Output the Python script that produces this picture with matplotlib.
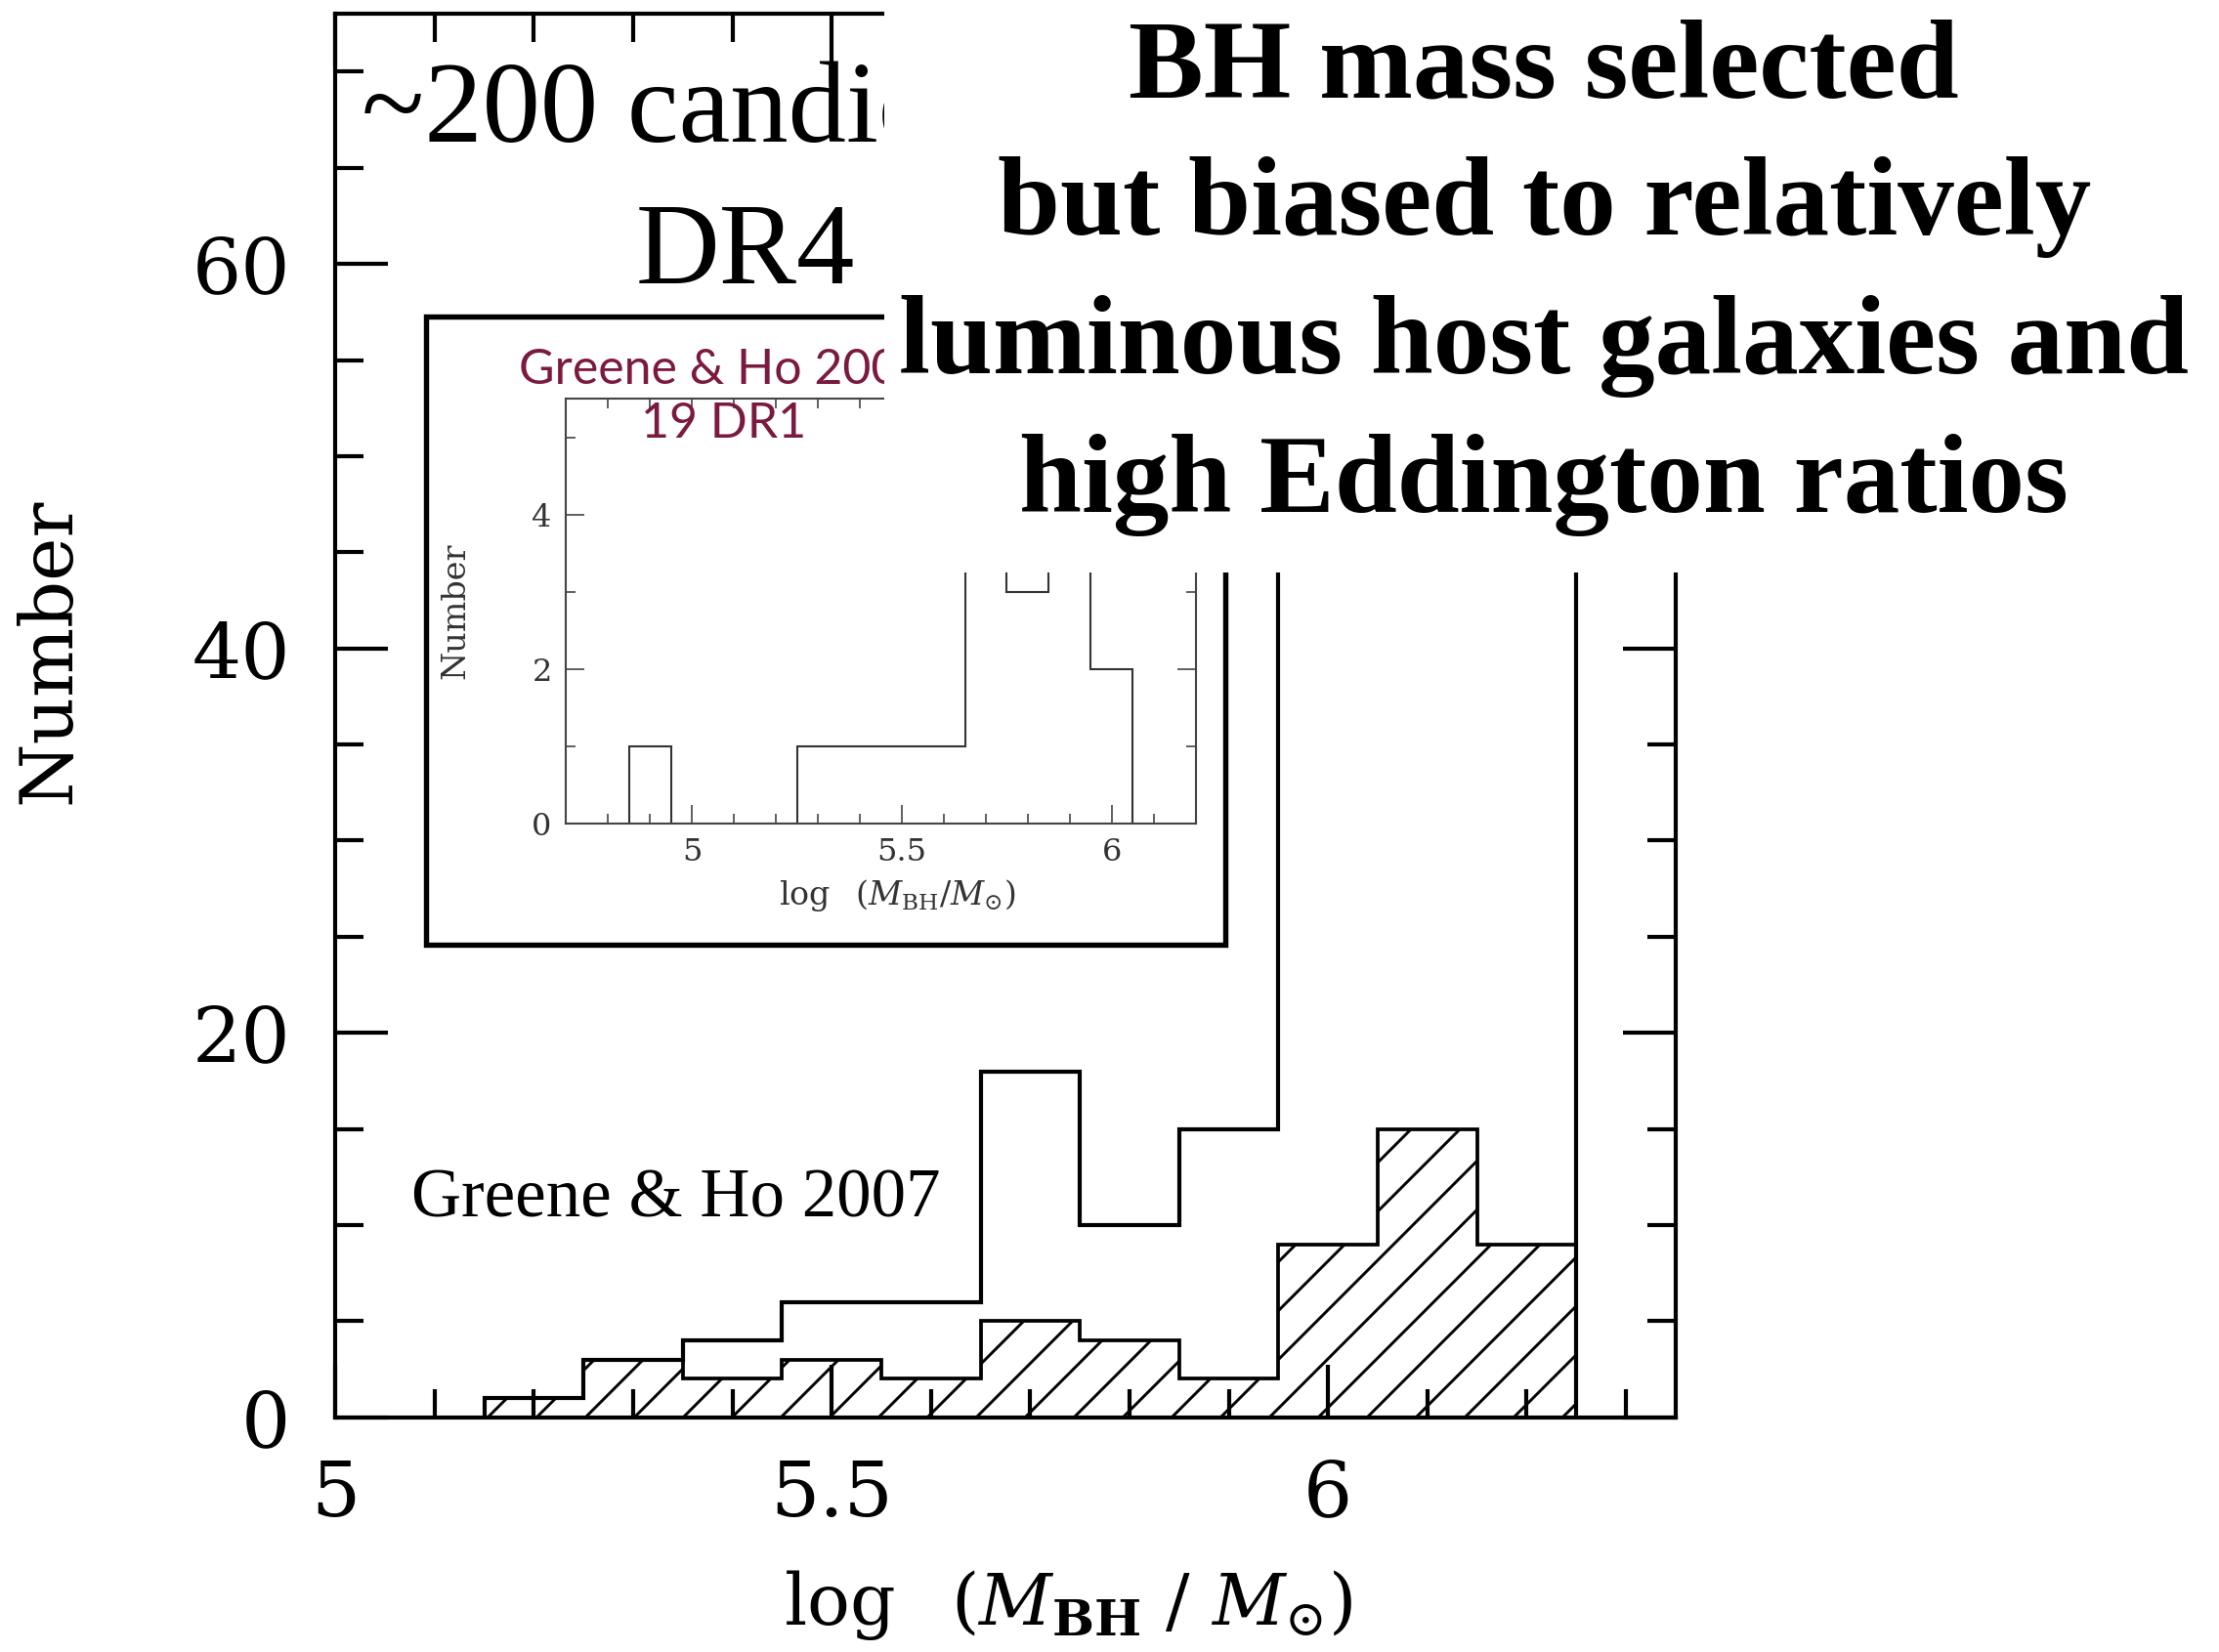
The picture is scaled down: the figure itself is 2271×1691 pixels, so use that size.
import numpy as np
import matplotlib.pyplot as plt
from matplotlib.patches import Rectangle

plt.rcParams['mathtext.fontset'] = 'dejavuserif'
plt.rcParams['hatch.linewidth'] = 0.7

# Greene & Ho 2007 (DR4), bins of 0.1 dex
bin_centers = [5.2, 5.3, 5.4, 5.5, 5.6, 5.7, 5.8, 5.9, 6.0, 6.1, 6.2]
n_all = [1, 3, 4, 6, 6, 18, 10, 15, 47, 50, 45]
n_hatched = [1, 3, 2, 3, 2, 5, 4, 2, 9, 15, 9]

# Greene & Ho 2004 inset (DR1)
inset_centers = [4.9, 5.0, 5.1, 5.2, 5.3, 5.4, 5.5, 5.6, 5.7, 5.8, 5.9, 6.0]
inset_counts = [1, 0, 0, 0, 1, 1, 1, 1, 4, 3, 5, 2]

main_xticks = [5, 5.5, 6]
main_xlabels = ['5', '5.5', '6']
main_yticks = [0, 20, 40, 60]
main_ylabels = ['0', '20', '40', '60']
inset_xticks = [5, 5.5, 6]
inset_xlabels = ['5', '5.5', '6']
inset_yticks = [0, 2, 4]
inset_ylabels = ['0', '2', '4']

title_lines = ["BH mass selected", "but biased to relatively",
               "luminous host galaxies and", "high Eddington ratios"]
title_y = [0.9409, 0.8578, 0.7739, 0.6899]


def edges_from(centers, w=0.1):
    c = np.array(centers)
    return np.append(c - w / 2, c[-1] + w / 2)


fig = plt.figure(figsize=(7.57, 5.637), dpi=300)

# main histogram
ax = fig.add_axes([0.1511, 0.1421, 0.604, 0.8493])
e = edges_from(bin_centers)
ax.stairs(n_hatched, e, baseline=0, fill=True, facecolor='none',
          edgecolor='black', hatch='//', lw=0.9)
ax.stairs(n_all, e, baseline=0, color='black', lw=1.0)
ax.set_xlim(5, 6.35)
ax.set_ylim(0, 73)
ax.set_xticks(main_xticks, main_xlabels)
ax.set_yticks(main_yticks, main_ylabels)
ax.set_xticks(np.arange(5.1, 6.35, 0.1), minor=True)
ax.set_yticks(np.arange(5, 73, 5), minor=True)
ax.tick_params(which='both', direction='in', top=True, right=True, width=1.0)
ax.tick_params(which='major', length=13, labelsize=19, pad=11)
ax.tick_params(axis='x', which='major', pad=10)
ax.tick_params(which='minor', length=7)
for lab in ax.get_xticklabels() + ax.get_yticklabels():
    lab.set_family('DejaVu Serif')
for s in ax.spines.values():
    s.set_linewidth(1.0)
ax.set_xlabel(r'$\log\ \ (M_{\mathbf{BH}}\ /\ M_{\odot})$', fontsize=17.5)
ax.xaxis.set_label_coords(0.547, -0.134)
ax.xaxis.label.set_va('center')
ax.set_ylabel('Number', family='DejaVu Serif', fontsize=18)
ax.yaxis.set_label_coords(-0.213, 0.546)
ax.yaxis.label.set_va('center')
ax.text(0.057, 0.155, 'Greene & Ho 2007', transform=ax.transAxes,
        family='Liberation Serif', fontsize=17, va='center', ha='left')

# inset frame
fig.add_artist(Rectangle((0.192, 0.4281), 0.3603, 0.3801, transform=fig.transFigure,
                         facecolor='white', edgecolor='black', lw=1.3, zorder=1))

axi = fig.add_axes([0.2551, 0.5017, 0.2838, 0.2569])
axi.set_zorder(2)
axi.stairs(inset_counts, edges_from(inset_centers), baseline=0, color='#333333', lw=0.5)
axi.set_xlim(4.7, 6.2)
axi.set_ylim(0, 5.5)
axi.set_xticks(inset_xticks, inset_xlabels)
axi.set_yticks(inset_yticks, inset_ylabels)
axi.set_xticks(np.arange(4.8, 6.2, 0.1), minor=True)
axi.set_yticks([1, 3, 5], minor=True)
axi.tick_params(which='both', direction='in', top=True, right=True, width=0.4,
                color='#444444', labelcolor='#333333')
axi.tick_params(which='major', length=4.5, labelsize=7.7, pad=3.5)
axi.tick_params(which='minor', length=2.4)
for lab in axi.get_xticklabels() + axi.get_yticklabels():
    lab.set_family('DejaVu Serif')
for s in axi.spines.values():
    s.set_linewidth(0.5)
    s.set_color('#444444')
axi.set_xlabel(r'$\log\ \ (M_{\mathrm{BH}}/M_{\odot})$', fontsize=8, color='#333333')
axi.xaxis.set_label_coords(0.526, -0.17)
axi.xaxis.label.set_va('center')
axi.set_ylabel('Number', family='DejaVu Serif', fontsize=8, color='#333333')
axi.yaxis.set_label_coords(-0.175, 0.50)
axi.yaxis.label.set_va('center')

fig.text(0.3259, 0.7757, 'Greene & Ho 2004', family='Lato', fontsize=12,
         color='#7b1a40', ha='center', va='center', zorder=3)
fig.text(0.3259, 0.7432, '19 DR1', family='Lato', fontsize=12,
         color='#7b1a40', ha='center', va='center', zorder=3)

# large annotations
fig.text(0.333, 0.9144, '~200 candidates', family='Liberation Serif', fontsize=28.5,
         ha='center', va='baseline', zorder=3)
fig.text(0.336, 0.8287, 'DR4', family='Liberation Serif', fontsize=28.5,
         ha='center', va='baseline', zorder=3)

fig.add_artist(Rectangle((0.3986, 0.6533), 0.6014, 0.3467, transform=fig.transFigure,
                         facecolor='white', edgecolor='none', zorder=4))
for line, y in zip(title_lines, title_y):
    fig.text(0.6958, y, line, family='Liberation Serif', weight='bold',
             fontsize=27.6, ha='center', va='baseline', zorder=5)

fig.savefig('out.png', dpi=300)
